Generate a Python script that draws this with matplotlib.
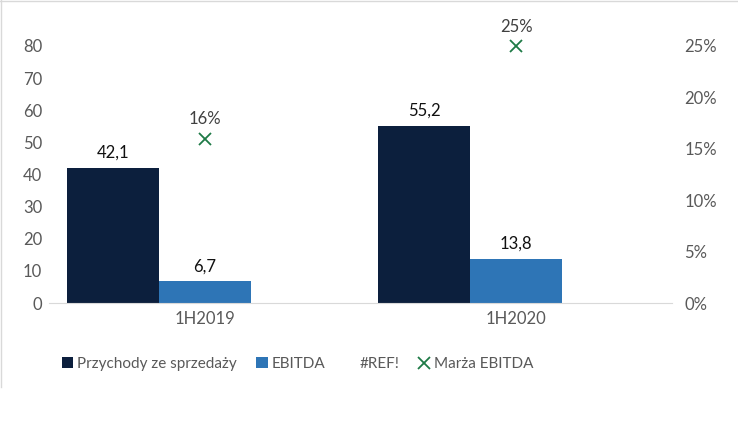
import matplotlib
matplotlib.use("Agg")
import matplotlib.pyplot as plt
from matplotlib.lines import Line2D
from matplotlib.patches import Patch
import matplotlib.ticker as ticker
import numpy as np

categories = ["1H2019", "1H2020"]
przychody = [42.1, 55.2]
ebitda = [6.7, 13.8]
marza = [0.16, 0.25]

NAVY = "#0C1F3D"
BLUE = "#2E75B6"
GREEN = "#1E7A46"
GRAY = "#595959"

plt.rcParams["font.family"] = ["Lato", "DejaVu Sans"]

fig = plt.figure(figsize=(7.38, 4.26), dpi=100)
ax = fig.add_axes([49 / 738, 1 - 303 / 426, (672 - 49) / 738, (303 - 46) / 426])
ax2 = ax.twinx()

x = np.arange(len(categories))
w = 0.295
b1 = ax.bar(x - w, przychody, w, color=NAVY, align="center")
b2 = ax.bar(x, ebitda, w, color=BLUE, align="center")

for rect, v in list(zip(b1, przychody)) + list(zip(b2, ebitda)):
    ax.annotate(f"{v:.1f}".replace(".", ","),
                (rect.get_x() + rect.get_width() / 2, rect.get_height()),
                xytext=(0, 5), textcoords="offset points",
                ha="center", va="bottom", fontsize=12, color="#111111")

ax2.plot(x, marza, ls="none", marker="x", ms=8, mew=1.3, color=GREEN, clip_on=False)
for xi, m in zip(x, marza):
    ax2.annotate(f"{m:.0%}", (xi, m), xytext=(0, 8), textcoords="offset points",
                 ha="center", va="bottom", fontsize=12, color="#404040")

ax.set_xlim(-0.5, 1.5)
ax.set_ylim(0, 80)
ax2.set_ylim(0, 0.25)
ax.yaxis.set_major_locator(ticker.MultipleLocator(10))
ax2.yaxis.set_major_locator(ticker.MultipleLocator(0.05))
ax2.yaxis.set_major_formatter(ticker.FuncFormatter(lambda v, p: f"{v:.0%}"))
ax.set_xticks(x)
ax.set_xticklabels(categories)

for a in (ax, ax2):
    for s in a.spines.values():
        s.set_visible(False)
    a.tick_params(length=0, labelsize=12, labelcolor=GRAY)
ax.spines["bottom"].set_visible(True)
ax.spines["bottom"].set_color("#D9D9D9")
ax.tick_params(axis="y", pad=5)
ax.tick_params(axis="x", pad=6)
ax2.tick_params(axis="y", pad=9)

handles = [
    Patch(facecolor=NAVY, edgecolor="none"),
    Patch(facecolor=BLUE, edgecolor="none"),
    Line2D([], [], ls="none"),
    Line2D([], [], ls="none", marker="x", ms=8, mew=1.3, color=GREEN),
]
labels = ["Przychody ze sprzedaży", "EBITDA", "#REF!", "Marża EBITDA"]
leg = fig.legend(handles, labels, loc="center left", bbox_to_anchor=(62 / 738, 1 - 364 / 426),
                 ncol=4, frameon=False, fontsize=11, handlelength=0.75, handleheight=0.75,
                 handletextpad=0.25, columnspacing=1.25, borderpad=0, borderaxespad=0)
for t in leg.get_texts():
    t.set_color(GRAY)

# chart frame (top and left edges visible)
fig.add_artist(Line2D([0.5 / 738, 0.5 / 738], [1 - 387 / 426, 1], color="#D9D9D9", lw=1))
fig.add_artist(Line2D([0, 1], [1 - 0.5 / 426, 1 - 0.5 / 426], color="#D9D9D9", lw=1))

fig.savefig("out.png", dpi=100)
